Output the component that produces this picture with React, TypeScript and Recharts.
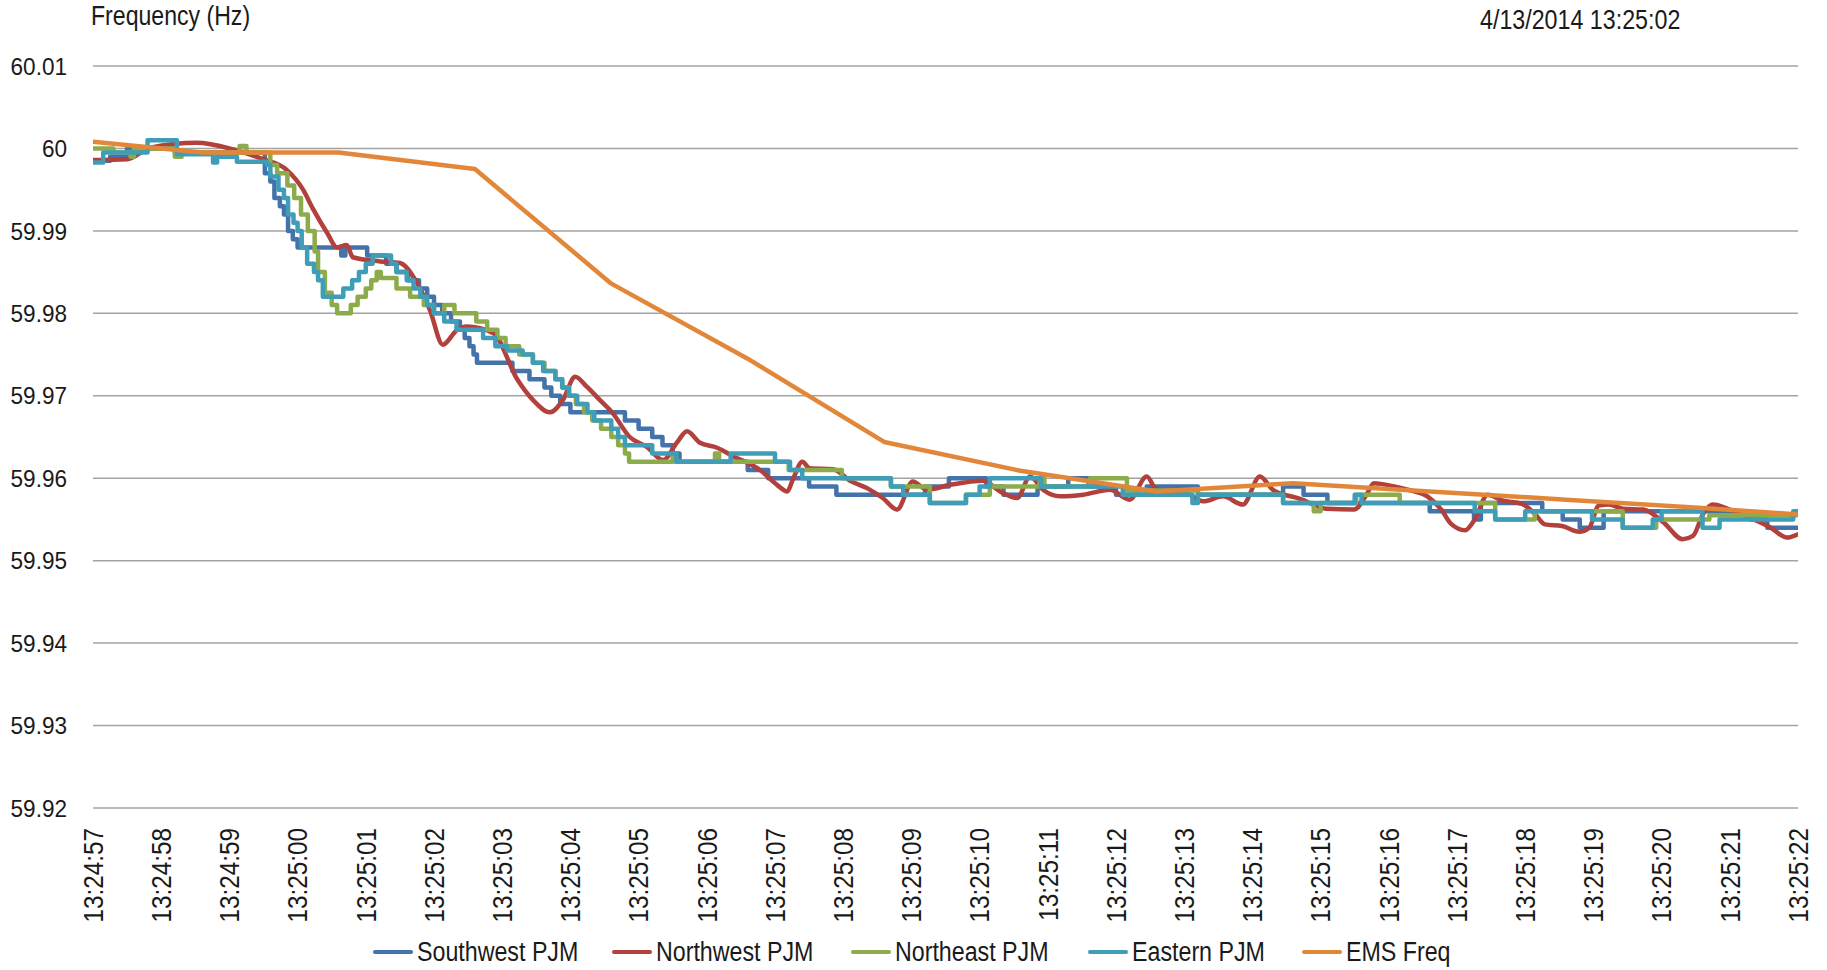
import { LineChart, Line, XAxis, YAxis, CartesianGrid } from 'recharts'

// seconds after 13:24:57
const timeTicks = [0, 1, 2, 3, 4, 5, 6, 7, 8, 9, 10, 11, 12, 13, 14, 15, 16, 17, 18, 19, 20, 21, 22, 23, 24, 25]
const timeLabels = [
  '13:24:57', '13:24:58', '13:24:59', '13:25:00', '13:25:01', '13:25:02', '13:25:03', '13:25:04', '13:25:05',
  '13:25:06', '13:25:07', '13:25:08', '13:25:09', '13:25:10', '13:25:11', '13:25:12', '13:25:13', '13:25:14',
  '13:25:15', '13:25:16', '13:25:17', '13:25:18', '13:25:19', '13:25:20', '13:25:21', '13:25:22',
]
const freqTicks = [59.92, 59.93, 59.94, 59.95, 59.96, 59.97, 59.98, 59.99, 60, 60.01]
const freqLabels = ['59.92', '59.93', '59.94', '59.95', '59.96', '59.97', '59.98', '59.99', '60', '60.01']

// [seconds, Hz]
const southwestPJM: [number, number][] = [
  [0, 59.9985], [0.25, 59.999], [0.5, 60.0], [1.2, 59.9995], [2.52, 59.997], [2.6, 59.996], [2.66, 59.994],
  [2.74, 59.993], [2.8, 59.992], [2.86, 59.99], [2.93, 59.989], [3.0, 59.988], [3.64, 59.987], [3.7, 59.988],
  [4.02, 59.987], [4.3, 59.986], [4.45, 59.985], [4.62, 59.984], [4.78, 59.983], [4.9, 59.982], [5.0, 59.981],
  [5.12, 59.98], [5.25, 59.979], [5.38, 59.978], [5.45, 59.977], [5.52, 59.976], [5.58, 59.975], [5.63, 59.974],
  [6.15, 59.973], [6.4, 59.972], [6.62, 59.971], [6.72, 59.97], [6.85, 59.969], [7.0, 59.968], [7.8, 59.967],
  [8.0, 59.966], [8.2, 59.965], [8.35, 59.964], [8.5, 59.963], [8.6, 59.962], [9.6, 59.961], [9.9, 59.96],
  [10.5, 59.959], [10.9, 59.958], [12.2, 59.959], [12.55, 59.96], [13.1, 59.959], [13.35, 59.958],
  [13.85, 59.959], [14.3, 59.96], [14.6, 59.959], [15.0, 59.958], [15.45, 59.959], [16.2, 59.958],
  [17.45, 59.959], [17.75, 59.958], [18.1, 59.957], [19.6, 59.956], [20.25, 59.955], [20.35, 59.957],
  [21.25, 59.956], [21.55, 59.955], [21.8, 59.954], [22.15, 59.956], [24.3, 59.955], [24.55, 59.954],
  [25, 59.954],
]

const northwestPJM: [number, number][] = [
  [0, 59.9986], [0.5, 59.9987], [0.84, 60.0001], [1.52, 60.0007], [2.05, 59.9999], [2.49, 59.9987],
  [2.84, 59.9974], [3.08, 59.995], [3.23, 59.9926], [3.43, 59.9898], [3.58, 59.988], [3.72, 59.9883],
  [3.81, 59.9868], [4.21, 59.9863], [4.5, 59.9861], [4.75, 59.9837], [4.94, 59.9804], [5.13, 59.9762],
  [5.34, 59.978], [5.48, 59.9784], [5.87, 59.9776], [6.22, 59.972], [6.45, 59.9695], [6.7, 59.968],
  [6.89, 59.9695], [7.07, 59.9723], [7.24, 59.9711], [7.43, 59.9695], [7.62, 59.9679], [7.87, 59.965],
  [8.12, 59.9638], [8.36, 59.9622], [8.56, 59.9643], [8.71, 59.9657], [8.9, 59.9643], [9.15, 59.9637],
  [9.38, 59.9627], [9.78, 59.961], [10.03, 59.9592], [10.18, 59.9584], [10.26, 59.9598], [10.4, 59.962],
  [10.51, 59.9612], [10.85, 59.9611], [11.1, 59.9597], [11.35, 59.9588], [11.58, 59.9576], [11.79, 59.9562],
  [12.02, 59.9596], [12.23, 59.9586], [12.57, 59.9592], [13.05, 59.9597], [13.3, 59.9584], [13.55, 59.9576],
  [13.74, 59.9602], [13.93, 59.9586], [14.18, 59.9578], [14.52, 59.958], [14.91, 59.9586], [15.2, 59.9574],
  [15.45, 59.9602], [15.6, 59.9586], [15.98, 59.9584], [16.28, 59.9572], [16.57, 59.9578], [16.86, 59.9568],
  [17.11, 59.9602], [17.3, 59.9586], [17.7, 59.9575], [18.09, 59.9563], [18.49, 59.9562], [18.68, 59.9581],
  [18.78, 59.9594], [19.08, 59.959], [19.28, 59.9586], [19.58, 59.9577], [19.77, 59.9562], [19.91, 59.9545],
  [20.12, 59.9537], [20.26, 59.955], [20.45, 59.958], [20.66, 59.9573], [20.95, 59.9569], [21.14, 59.9557],
  [21.29, 59.9544], [21.54, 59.9542], [21.79, 59.9535], [21.94, 59.954], [22.08, 59.9567], [22.23, 59.9568],
  [22.43, 59.9563], [22.73, 59.9562], [23.02, 59.9547], [23.31, 59.9526], [23.46, 59.953], [23.61, 59.9557],
  [23.75, 59.9568], [24.0, 59.9562], [24.35, 59.955], [24.6, 59.954], [24.84, 59.9528], [25, 59.9532],
]

const northeastPJM: [number, number][] = [
  [0, 60.0], [0.3, 59.9995], [0.55, 59.999], [0.6, 60.0], [1.2, 59.999], [1.3, 59.9995], [2.15, 60.0003],
  [2.25, 59.9995], [2.6, 59.998], [2.7, 59.997], [2.85, 59.9955], [2.95, 59.994], [3.05, 59.992], [3.15, 59.99],
  [3.25, 59.9875], [3.3, 59.985], [3.4, 59.9825], [3.5, 59.981], [3.58, 59.98], [3.78, 59.981], [3.88, 59.982],
  [4.0, 59.983], [4.08, 59.984], [4.16, 59.985], [4.22, 59.9843], [4.45, 59.983], [4.65, 59.982], [4.85, 59.981],
  [5.0, 59.98], [5.15, 59.981], [5.3, 59.98], [5.62, 59.979], [5.78, 59.978], [5.93, 59.977], [6.05, 59.976],
  [6.25, 59.975], [6.45, 59.974], [6.62, 59.973], [6.78, 59.972], [6.88, 59.971], [6.98, 59.97], [7.08, 59.969],
  [7.2, 59.968], [7.32, 59.967], [7.45, 59.966], [7.6, 59.965], [7.7, 59.964], [7.8, 59.963], [7.86, 59.962],
  [8.5, 59.963], [8.55, 59.962], [9.12, 59.963], [9.18, 59.962], [10.2, 59.961], [10.98, 59.96], [11.7, 59.959],
  [12.27, 59.957], [12.8, 59.958], [13.15, 59.959], [13.88, 59.96], [13.95, 59.959], [14.62, 59.96],
  [15.16, 59.9585], [16.2, 59.958], [17.45, 59.957], [17.9, 59.956], [18.0, 59.957], [18.52, 59.958],
  [19.16, 59.957], [20.56, 59.955], [21.14, 59.956], [22.43, 59.954], [22.92, 59.955], [23.7, 59.9555],
  [25, 59.9555],
]

const easternPJM: [number, number][] = [
  [0, 59.9983], [0.15, 59.9995], [0.8, 60.001], [1.23, 59.9993], [1.76, 59.9983], [1.82, 59.999],
  [2.11, 59.9984], [2.55, 59.998], [2.6, 59.9966], [2.72, 59.995], [2.8, 59.994], [2.86, 59.992], [2.94, 59.991],
  [3.0, 59.99], [3.06, 59.988], [3.14, 59.986], [3.24, 59.985], [3.3, 59.984], [3.37, 59.982], [3.67, 59.983],
  [3.8, 59.984], [3.9, 59.985], [4.0, 59.986], [4.1, 59.987], [4.37, 59.986], [4.45, 59.985], [4.6, 59.984],
  [4.7, 59.983], [4.8, 59.982], [4.9, 59.981], [5.0, 59.98], [5.15, 59.979], [5.33, 59.978], [5.72, 59.977],
  [5.9, 59.976], [6.07, 59.9755], [6.3, 59.975], [6.45, 59.974], [6.6, 59.973], [6.78, 59.972], [6.88, 59.971],
  [6.98, 59.97], [7.1, 59.969], [7.25, 59.968], [7.35, 59.967], [7.6, 59.966], [7.7, 59.965], [7.8, 59.964],
  [8.2, 59.963], [8.55, 59.962], [9.35, 59.963], [10.0, 59.962], [10.22, 59.961], [10.4, 59.96], [11.7, 59.959],
  [11.88, 59.958], [12.27, 59.957], [12.8, 59.958], [13.0, 59.959], [13.15, 59.96], [13.9, 59.959],
  [15.1, 59.958], [16.12, 59.957], [16.2, 59.958], [17.45, 59.957], [18.5, 59.958], [18.6, 59.957],
  [20.26, 59.956], [20.56, 59.955], [21.0, 59.956], [21.98, 59.955], [22.43, 59.954], [22.87, 59.955],
  [23.0, 59.956], [23.6, 59.954], [23.85, 59.955], [24.93, 59.956], [25, 59.956],
]

const emsFreq: [number, number][] = [
  [0, 60.0008], [1.6, 59.9995], [3.6, 59.9995], [5.6, 59.9975], [7.6, 59.9836], [9.6, 59.9745],
  [11.6, 59.9644], [13.6, 59.9609], [15.6, 59.9584], [17.6, 59.9594], [19.6, 59.9584], [21.6, 59.9574],
  [23.6, 59.9564], [25, 59.9556],
]

// Excel's condensed face: Arial metrics squeezed horizontally
const FONT = "'Liberation Sans', Arial, sans-serif"
const TEXT = '#1a1a1a'

const toRows = (pts: [number, number][]) => pts.map(([t, v]) => ({ t, v }))

const series = [
  { name: 'Southwest PJM', color: '#4472AA', type: 'stepAfter', points: southwestPJM },
  { name: 'Northwest PJM', color: '#B2403C', type: 'monotone', points: northwestPJM },
  { name: 'Northeast PJM', color: '#8CAC4B', type: 'stepAfter', points: northeastPJM },
  { name: 'Eastern PJM', color: '#3F9DB8', type: 'stepAfter', points: easternPJM },
  { name: 'EMS Freq', color: '#E28739', type: 'linear', points: emsFreq },
] as const

// left edge of each legend entry
const legendX = [373, 612, 851, 1088, 1302]

const YTick = ({ x, y, index }: any) => (
  <text
    transform={`translate(${x},${y}) scale(0.94,1)`}
    dy="0.36em"
    textAnchor="end"
    fontFamily={FONT}
    fontSize={24}
    fill={TEXT}
  >
    {freqLabels[index]}
  </text>
)

const XTick = ({ x, y, index }: any) => (
  <text
    transform={`translate(${x},${y}) rotate(-90) scale(0.9,1)`}
    dy="0.36em"
    textAnchor="end"
    fontFamily={FONT}
    fontSize={27}
    fill={TEXT}
  >
    {timeLabels[index]}
  </text>
)

const Squeezed = ({ children, scale, size }: { children: string; scale: number; size: number }) => (
  <span
    style={{
      display: 'inline-block',
      whiteSpace: 'nowrap',
      fontSize: size,
      lineHeight: `${size}px`,
      transform: `scaleX(${scale})`,
      transformOrigin: 'left center',
    }}
  >
    {children}
  </span>
)

const App = () => {
  return (
    <div style={{ position: 'absolute', left: 0, top: 0, width: 1827, height: 970, background: '#fff', fontFamily: FONT, color: TEXT }}>
      <div style={{ position: 'absolute', left: 91, top: 3 }}>
        <Squeezed size={27} scale={0.855}>Frequency (Hz)</Squeezed>
      </div>
      <div style={{ position: 'absolute', left: 1480, top: 6 }}>
        <Squeezed size={28} scale={0.83}>4/13/2014 13:25:02</Squeezed>
      </div>

      <LineChart width={1827} height={970} margin={{ top: 66, right: 29, bottom: 62, left: 0 }}>
        <CartesianGrid vertical={false} stroke="#a3a3a3" strokeWidth={1.5} />
        <XAxis
          type="number"
          dataKey="t"
          domain={[0, 25]}
          ticks={timeTicks}
          allowDataOverflow
          axisLine={false}
          tickLine={false}
          tickSize={0}
          tickMargin={20}
          height={100}
          interval={0}
          tick={<XTick />}
        />
        <YAxis
          type="number"
          domain={[59.92, 60.01]}
          ticks={freqTicks}
          allowDataOverflow
          axisLine={false}
          tickLine={false}
          tickSize={0}
          tickMargin={26}
          width={93}
          interval={0}
          tick={<YTick />}
        />
        {series.map((s) => (
          <Line
            key={s.name}
            name={s.name}
            data={toRows(s.points as unknown as [number, number][])}
            dataKey="v"
            type={s.type}
            stroke={s.color}
            strokeWidth={4.5}
            strokeLinejoin="round"
            strokeLinecap="round"
            dot={false}
            activeDot={false}
            isAnimationActive={false}
          />
        ))}
      </LineChart>

      {series.map((s, i) => (
        <div
          key={s.name}
          style={{ position: 'absolute', left: legendX[i], top: 937, height: 30, display: 'flex', alignItems: 'center' }}
        >
          <span style={{ display: 'inline-block', width: 40, height: 4, borderRadius: 2, background: s.color, marginRight: 4 }} />
          <Squeezed size={27} scale={0.86}>{s.name}</Squeezed>
        </div>
      ))}
    </div>
  )
}

export default App
